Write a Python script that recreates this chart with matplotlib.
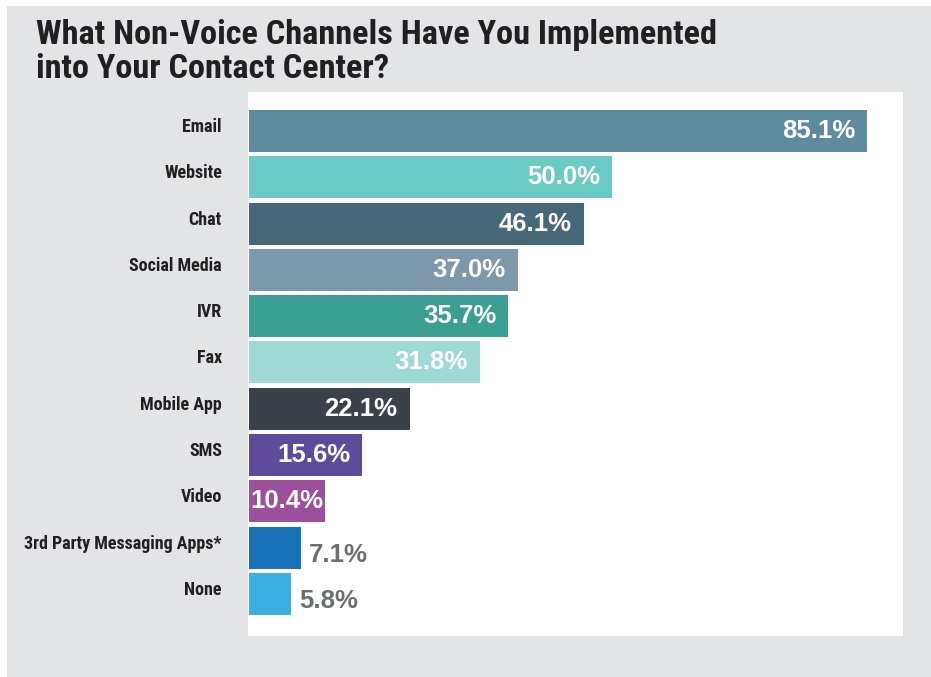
import matplotlib
matplotlib.use("Agg")
import matplotlib.pyplot as plt
from matplotlib import font_manager
from matplotlib.patches import Rectangle

categories = ["Email", "Website", "Chat", "Social Media", "IVR", "Fax",
              "Mobile App", "SMS", "Video", "3rd Party Messaging Apps*", "None"]
values = [85.1, 50.0, 46.1, 37.0, 35.7, 31.8, 22.1, 15.6, 10.4, 7.1, 5.8]
colors = ["#5e8ba0", "#6ccac4", "#466878", "#7d99ab", "#3ba093", "#9ed9d5",
          "#3b4149", "#5e4a9a", "#9b4f9c", "#1a72b9", "#3daee2"]
title_lines = ["What Non-Voice Channels Have You Implemented",
               "into Your Contact Center?"]

# pick a narrow bold family for headings if one is installed
names = {f.name for f in font_manager.fontManager.ttflist}
narrow = None
for cand in ["Liberation Sans Narrow", "Roboto Condensed"]:
    if cand in names:
        narrow = cand
        break
head_family = [narrow, "Liberation Sans"] if narrow else ["Liberation Sans"]

W, H = 931, 677
fig = plt.figure(figsize=(W / 100, H / 100), dpi=100, facecolor="white")

# grey panel behind everything
fig.patches.append(Rectangle((7 / W, 0), 1, 1 - 6 / H, transform=fig.transFigure,
                             facecolor="#e3e4e6", edgecolor="none", zorder=-5))

ax = fig.add_axes([248 / W, (H - 636) / H, (903 - 248) / W, (636 - 92) / H])
ax.set_facecolor("white")
for s in ax.spines.values():
    s.set_visible(False)
ax.set_xticks([])
ax.set_yticks([])

pos = list(range(len(categories)))
ax.barh(pos, values, height=0.907, color=colors, left=0, zorder=2)
ax.set_xlim(-0.14, 90.0)
ax.set_ylim(10.907, -0.842)

for i, (cat, v) in enumerate(zip(categories, values)):
    ax.annotate(cat, xy=(0, i), xycoords=("axes fraction", "data"),
                xytext=(-26, 4), textcoords="offset pixels",
                ha="right", va="center", fontsize=13, fontweight="bold",
                color="#231f20", family=head_family)
    label = f"{v:.1f}%"
    if v >= 12:
        ax.annotate(label, xy=(v, i), xytext=(-12, 0), textcoords="offset pixels",
                    ha="right", va="center", fontsize=18.5, fontweight="bold",
                    color="white", family=["Liberation Sans"])
    elif v >= 9:
        ax.annotate(label, xy=(v / 2, i), xytext=(0, 0), textcoords="offset pixels",
                    ha="center", va="center", fontsize=18.5, fontweight="bold",
                    color="white", family=["Liberation Sans"])
    else:
        ax.annotate(label, xy=(v, i), xytext=(8, -7), textcoords="offset pixels",
                    ha="left", va="center", fontsize=18.5, fontweight="bold",
                    color="#6d6e70", family=["Liberation Sans"])

for line, base in zip(title_lines, [44, 78]):
    fig.text(36 / W, 1 - base / H, line, ha="left", va="baseline", fontsize=24.7,
             fontweight="bold", color="#231f20", family=head_family)

fig.savefig("out.png", dpi=100, facecolor=fig.get_facecolor())
